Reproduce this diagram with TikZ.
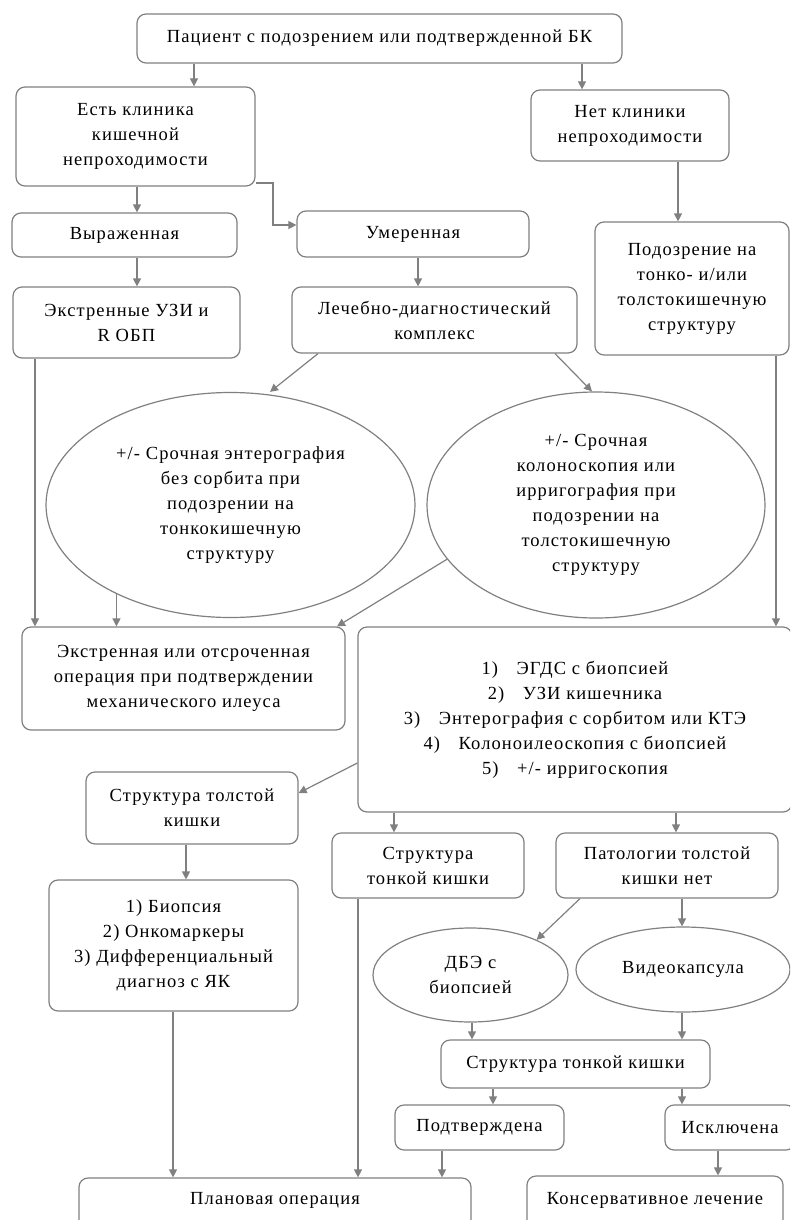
\documentclass[tikz,border=0pt]{standalone}
\usepackage{fontspec}
\setmainfont[LetterSpace=6]{Liberation Serif}
\usetikzlibrary{positioning,shapes.geometric,arrows.meta}
\tikzstyle{FlowBox} = [draw=gray, line width=1.2pt, rounded corners=9pt, align=center, inner sep=2pt]
\tikzstyle{FlowOval} = [draw=gray, line width=1.2pt, ellipse, align=center, inner sep=0pt]

\begin{document}
\begin{tikzpicture}[x=1pt, y=-1pt, font=\fontsize{18.5}{25}\selectfont,
    link/.style={draw=gray, line width=1.2pt, -{Triangle[width=8pt,length=8pt]}}]

    \useasboundingbox (0,0) rectangle (790,1220);
    \clip (0,0) rectangle (790,1220);

    % top part
    \node[FlowBox, minimum width=485, minimum height=49] (patient) at (379.5,38.5) {Пациент с подозрением или подтвержденной БК};
    \node[FlowBox, minimum width=239, minimum height=99] (obstr) at (135.5,136.5) {Есть клиника\\кишечной\\непроходимости};
    \node[FlowBox, minimum width=198, minimum height=71] (noobstr) at (630,125.5) {Нет клиники\\непроходимости};
    \node[FlowBox, minimum width=225, minimum height=44] (severe) at (124.5,235) {Выраженная};
    \node[FlowBox, minimum width=232, minimum height=46] (moderate) at (413,234) {Умеренная};
    \node[FlowBox, minimum width=227, minimum height=71] (urgent) at (126.5,322.5) {Экстренные УЗИ и\\R ОБП};
    \node[FlowBox, minimum width=285, minimum height=66] (complex) at (434.5,320) {Лечебно-диагностический\\комплекс};
    \node[FlowBox, minimum width=194, minimum height=133] (suspect) at (692,288.5) {Подозрение на\\тонко- и/или\\толстокишечную\\структуру};

    % ovals
    \node[FlowOval, minimum width=369, minimum height=225] (entero) at (230.5,505) {+/- Срочная энтерография\\без сорбита при\\подозрении на\\тонкокишечную\\структуру};
    \node[FlowOval, minimum width=338, minimum height=226] (colono) at (596,505) {+/- Срочная\\колоноскопия или\\ирригография при\\подозрении на\\толстокишечную\\структуру};

    % middle part
    \node[FlowBox, minimum width=323, minimum height=103] (surgery) at (183.5,678.5) {Экстренная или отсроченная\\операция при подтверждении\\механического илеуса};
    \node[FlowBox, minimum width=434, minimum height=185] (exams) at (575,719.5) {1)\quad ЭГДС с биопсией\\2)\quad УЗИ кишечника\\3)\quad Энтерография с сорбитом или КТЭ\\4)\quad Колоноилеоскопия с биопсией\\5)\quad +/- ирригоскопия};
    \node[FlowBox, minimum width=212, minimum height=72] (large) at (192,808) {Структура толстой\\кишки};
    \node[FlowBox, minimum width=192, minimum height=65] (small) at (428,865.5) {Структура\\тонкой кишки};
    \node[FlowBox, minimum width=222, minimum height=65] (nopath) at (667,865.5) {Патологии толстой\\кишки нет};
    \node[FlowBox, minimum width=249, minimum height=131] (biopsy) at (173.5,945.5) {1) Биопсия\\2) Онкомаркеры\\3) Дифференциальный\\диагноз с ЯК};
    \node[FlowOval, minimum width=195, minimum height=94] (dbe) at (470.5,975) {ДБЭ с\\биопсией};
    \node[FlowOval, minimum width=214, minimum height=85] (capsule) at (683,969.5) {Видеокапсула};

    % bottom part
    \node[FlowBox, minimum width=269, minimum height=48] (small2) at (575.5,1064) {Структура тонкой кишки};
    \node[FlowBox, minimum width=169, minimum height=45] (confirmed) at (479.5,1127.5) {Подтверждена};
    \node[FlowBox, minimum width=130, minimum height=45] (excluded) at (730,1127.5) {Исключена};
    \node[FlowBox, minimum width=392, text height=24pt, text depth=30pt, anchor=base] (planned) at (275,1204) {Плановая операция};
    \node[FlowBox, minimum width=256, text height=26pt, text depth=30pt, anchor=base] (conserv) at (655,1204) {Консервативное лечение};

    % connectors
    \draw[link] (194,0 |- patient.south) -- (194,0 |- obstr.north);
    \draw[link] (582,0 |- patient.south) -- (582,0 |- noobstr.north);
    \draw[link] (137,0 |- obstr.south) -- (137,0 |- severe.north);
    \draw[link] (obstr.east |- 0,183) -- (273,183) -- (273,225) -- (moderate.west |- 0,225);
    \draw[link] (137,0 |- severe.south) -- (137,0 |- urgent.north);
    \draw[link] (418,0 |- moderate.south) -- (418,0 |- complex.north);
    \draw[link] (678,0 |- noobstr.south) -- (678,0 |- suspect.north);
    \draw[link] (318,0 |- complex.south) -- (270,0 |- entero.north);
    \draw[link] (555,0 |- complex.south) -- (592,0 |- colono.north);
    \draw[link] (35,0 |- urgent.south) -- (35,0 |- surgery.north);
    \draw[link] (entero.218) -- (entero.218 |- surgery.north);
    \draw[link] (colono.200) -- (337,0 |- surgery.north);
    \draw[link] (776,0 |- suspect.south) -- (776,0 |- exams.north);
    \draw[link] (exams.west |- 0,763) -- (large.east |- 0,793);
    \draw[link] (394,0 |- exams.south) -- (394,0 |- small.north);
    \draw[link] (676,0 |- exams.south) -- (676,0 |- nopath.north);
    \draw[link] (186,0 |- large.south) -- (186,0 |- biopsy.north);
    \draw[link] (173,0 |- biopsy.south) -- (173,0 |- planned.north);
    \draw[link] (358,0 |- small.south) -- (358,0 |- planned.north);
    \draw[link] (580,0 |- nopath.south) -- (dbe.28);
    \draw[link] (682,0 |- nopath.south) -- (682,0 |- capsule.north);
    \draw[link] (472,0 |- dbe.south) -- (472,0 |- small2.north);
    \draw[link] (682,0 |- capsule.south) -- (682,0 |- small2.north);
    \draw[link] (493,0 |- small2.south) -- (493,0 |- confirmed.north);
    \draw[link] (682,0 |- small2.south) -- (682,0 |- excluded.north);
    \draw[link] (442,0 |- confirmed.south) -- (442,0 |- planned.north);
    \draw[link] (718,0 |- excluded.south) -- (718,0 |- conserv.north);
  \end{tikzpicture}
\end{document}
